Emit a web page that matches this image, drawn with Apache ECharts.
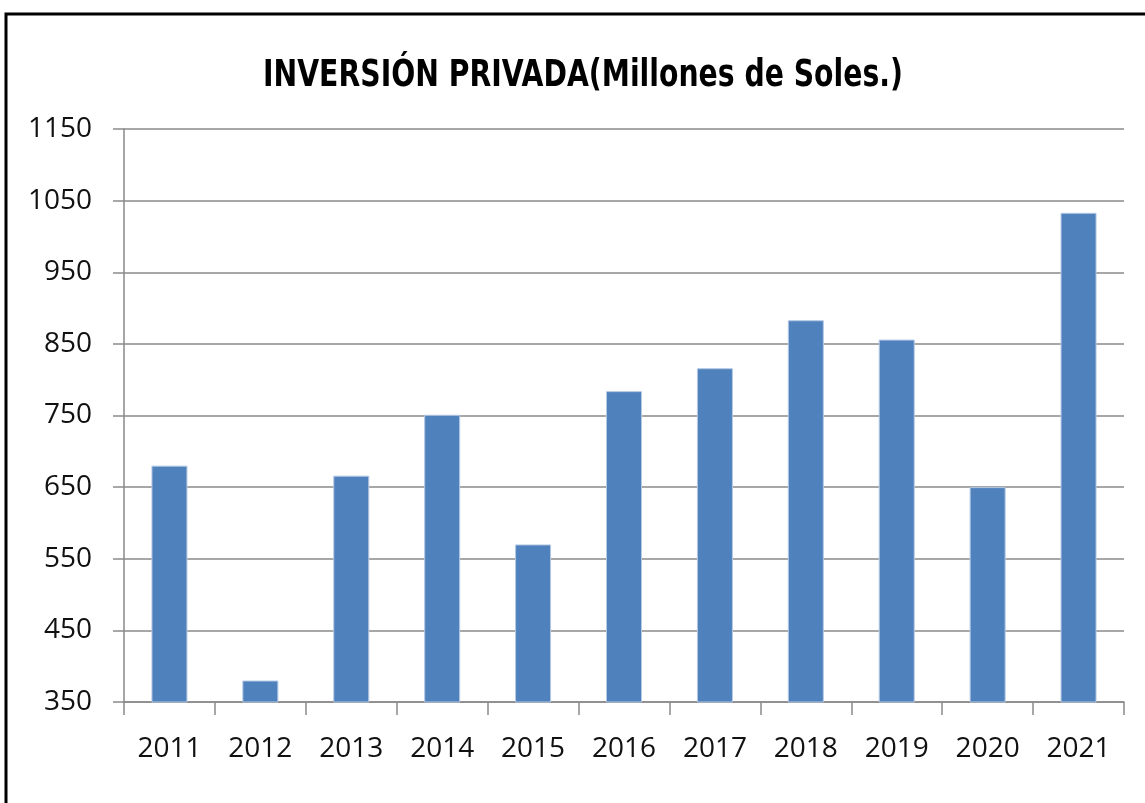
<!DOCTYPE html>
<html>
<head>
<meta charset="utf-8">
<script src="https://cdn.jsdelivr.net/npm/echarts@6/dist/echarts.min.js"></script>
<style>
  html, body { margin: 0; padding: 0; background: #fff; }
  #chart { width: 1145px; height: 803px; }
</style>
</head>
<body>
<div id="chart"></div>
<script>
const years = ['2011', '2012', '2013', '2014', '2015', '2016', '2017', '2018', '2019', '2020', '2021'];
const inversion = [680, 380, 666, 751, 570, 784, 816, 883, 856, 650, 1033];
const yMin = 350;
const yMax = 1150;
const yStep = 100;

const chart = echarts.init(document.getElementById('chart'));

chart.setOption({
  animation: false,
  backgroundColor: '#fff',
  graphic: [
    {
      type: 'rect',
      shape: { x: 6, y: 14, width: 1200, height: 900 },
      style: { fill: 'none', stroke: '#000', lineWidth: 3 },
      silent: true,
    },
    {
      // narrow bold title, squeezed horizontally to mimic the condensed face
      type: 'text',
      x: 583,
      y: 76,
      scaleX: 0.85,
      style: {
        text: 'INVERSIÓN PRIVADA(Millones de Soles.)',
        font: 'bold 37px "DejaVu Sans Condensed", "DejaVu Sans", sans-serif',
        fill: '#000',
        align: 'center',
        verticalAlign: 'middle',
      },
      silent: true,
    },
  ],
  grid: { left: 124, right: 21, top: 129, bottom: 101 },
  xAxis: {
    type: 'category',
    data: years,
    axisLine: { lineStyle: { color: '#8a8a8a', width: 1.5 } },
    axisTick: { show: true, length: 13, lineStyle: { color: '#8a8a8a', width: 1.5 } },
    axisLabel: { color: '#111', fontSize: 28, margin: 33, fontFamily: 'Open Sans, sans-serif' },
  },
  yAxis: {
    type: 'value',
    min: yMin,
    max: yMax,
    interval: yStep,
    axisLine: { show: true, lineStyle: { color: '#8a8a8a', width: 1.5 } },
    axisTick: { show: true, length: 11, lineStyle: { color: '#8a8a8a', width: 1.5 } },
    splitLine: { lineStyle: { color: '#8a8a8a', width: 1.5 } },
    axisLabel: {
      color: '#111',
      fontSize: 28,
      margin: 32,
      fontFamily: 'Open Sans, sans-serif',
      formatter: (v) => String(v),
    },
  },
  series: [
    {
      name: 'Inversión privada',
      type: 'bar',
      data: inversion,
      barWidth: 36,
      itemStyle: { color: '#4f81bd', borderColor: '#b4c8e4', borderWidth: 1 },
    },
  ],
});
</script>
</body>
</html>
